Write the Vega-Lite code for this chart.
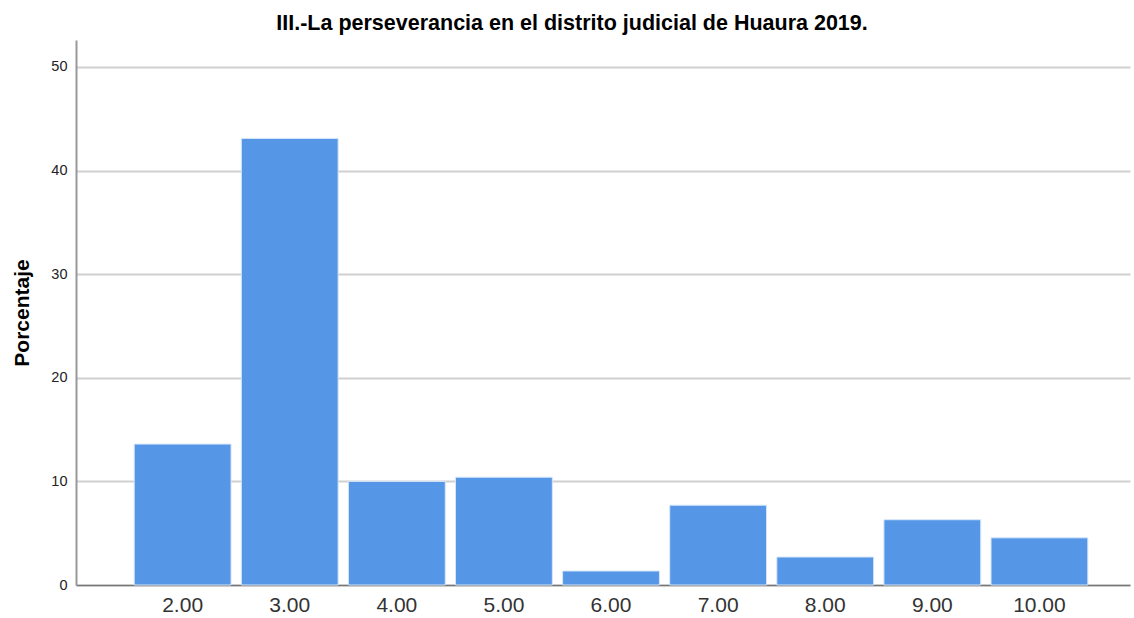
{
  "$schema": "https://vega.github.io/schema/vega-lite/v6.json",
  "autosize": "none",
  "width": 1054,
  "height": 545,
  "padding": {"left": 76, "top": 40, "right": 4, "bottom": 33},
  "background": "white",
  "title": {
    "text": "III.-La perseverancia en el distrito judicial de Huaura 2019.",
    "font": "Liberation Sans",
    "fontSize": 21.5,
    "fontWeight": "bold",
    "color": "#000000",
    "anchor": "middle",
    "dx": -31,
    "offset": 6
  },
  "data": {
    "values": [
      {"cat": "2.00", "pct": 13.6},
      {"cat": "3.00", "pct": 43.1},
      {"cat": "4.00", "pct": 10.0},
      {"cat": "5.00", "pct": 10.4},
      {"cat": "6.00", "pct": 1.35},
      {"cat": "7.00", "pct": 7.7},
      {"cat": "8.00", "pct": 2.7},
      {"cat": "9.00", "pct": 6.3},
      {"cat": "10.00", "pct": 4.55}
    ]
  },
  "mark": {"type": "bar", "color": "#5596e6", "stroke": "#d6e6fa", "strokeWidth": 1},
  "encoding": {
    "x": {
      "field": "cat",
      "type": "ordinal",
      "sort": null,
      "scale": {"paddingInner": 0.096, "paddingOuter": 0.4686, "align": 0.58},
      "axis": {
        "title": null,
        "labelAngle": 0,
        "labelFont": "Liberation Sans",
        "labelFontSize": 21,
        "labelColor": "#333333",
        "labelPadding": 9,
        "ticks": false,
        "domainColor": "#777777",
        "domainWidth": 1.5,
        "grid": false
      }
    },
    "y": {
      "field": "pct",
      "type": "quantitative",
      "scale": {"domain": [0, 52.6], "nice": false},
      "axis": {
        "title": "Porcentaje",
        "titleFont": "Liberation Sans",
        "titleFontSize": 21,
        "titleFontWeight": "bold",
        "titleColor": "#000000",
        "titlePadding": 18,
        "values": [0, 10, 20, 30, 40, 50],
        "labelFont": "Liberation Sans",
        "labelFontSize": 14.5,
        "labelColor": "#222222",
        "labelPadding": 9,
        "ticks": false,
        "domainColor": "#999999",
        "domainWidth": 2,
        "grid": true,
        "gridColor": "#d0d0d0",
        "gridWidth": 2
      }
    }
  },
  "config": {"view": {"stroke": null}}
}
